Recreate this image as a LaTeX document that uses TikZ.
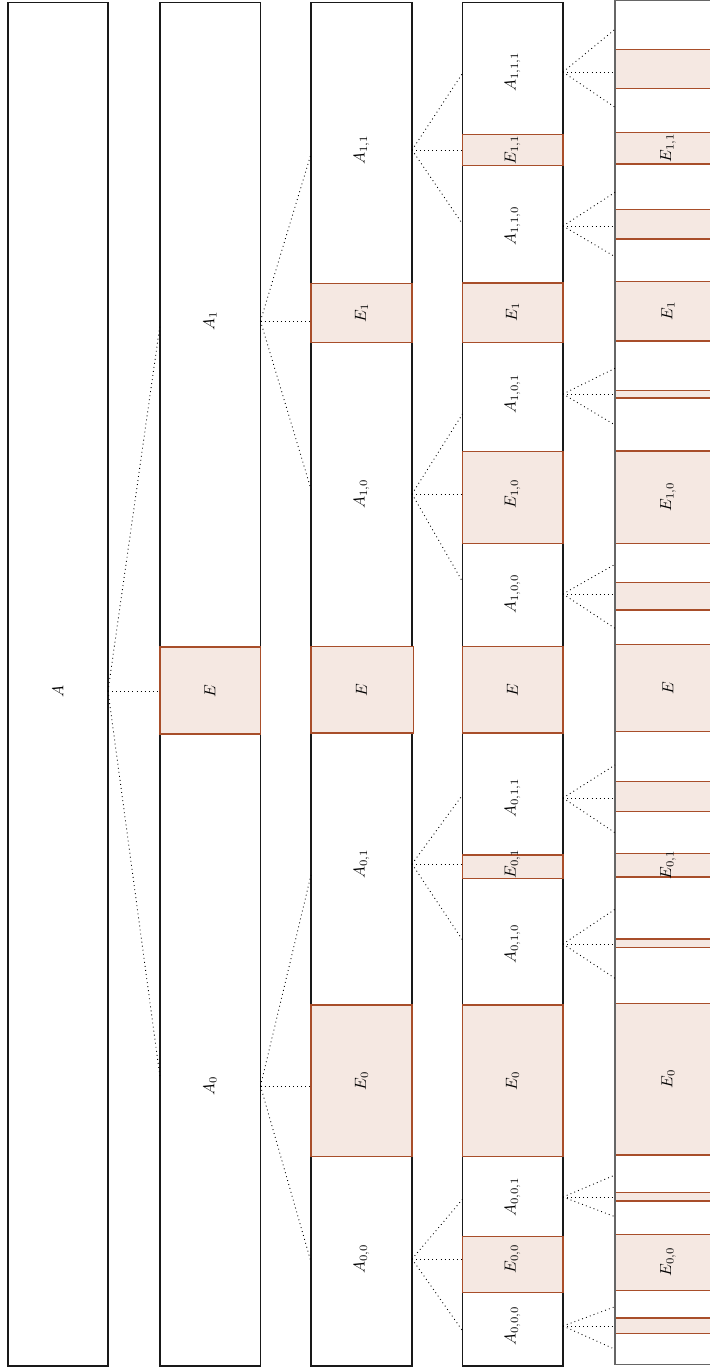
\documentclass[tikz,border=0pt]{standalone}
\definecolor{efill}{RGB}{245,232,226}
\definecolor{edraw}{RGB}{168,78,42}
\tikzset{
  colbox/.style={draw=black!90, line width=0.65pt},
  lastbox/.style={draw=black!60, line width=1pt},
  ebox/.style={draw=edraw, fill=efill, line width=0.65pt},
  lbl/.style={rotate=90, inner sep=0pt},
  conn/.style={dotted, line width=0.55pt},
}
\begin{document}
\begin{tikzpicture}[x=0.625pt,y=-0.625pt]
\useasboundingbox (0,0) rectangle (710,1367);

% column edges
\coordinate (c0r) at (108,0);
\coordinate (c1l) at (160,0);
\coordinate (c1r) at (260.5,0);
\coordinate (c2l) at (311,0);
\coordinate (c2r) at (412,0);
\coordinate (c3l) at (462.5,0);
\coordinate (c3r) at (563,0);
\coordinate (c4l) at (615,0);

% ---------- column 0
\draw[colbox] (8,2.5) rectangle (108,1366);
\node[lbl] (A) at (58,691) {$A$};

% ---------- column 1
\draw[colbox] (160,2.5) rectangle (260.5,1366);
\draw[ebox] (160,647) rectangle (260.5,734);
\node[lbl] (A1) at (210,321) {$A_1$};
\node[lbl] (E) at (210,691) {$E$};
\node[lbl] (A0) at (210,1086) {$A_0$};

% ---------- column 2
\draw[colbox] (311,2.5) rectangle (412,1366);
\draw[ebox] (311,283.3) rectangle (412,342.7);
\draw[ebox] (311,646.3) rectangle (413.3,733);
\draw[ebox] (311,1005) rectangle (412,1156.7);
\node[lbl] (A11) at (361.5,150) {$A_{1,1}$};
\node[lbl] (E1b) at (361.5,313) {$E_1$};
\node[lbl] (A10) at (361.5,494) {$A_{1,0}$};
\node[lbl] (Eb) at (361.5,690) {$E$};
\node[lbl] (A01) at (361.5,864) {$A_{0,1}$};
\node[lbl] (E0b) at (361.5,1081) {$E_0$};
\node[lbl] (A00) at (361.5,1259) {$A_{0,0}$};

% ---------- column 3
\draw[colbox] (462.5,2.5) rectangle (563,1366);
\draw[ebox] (462.5,134.3) rectangle (563,165.7);
\draw[ebox] (462.5,283) rectangle (563,342.3);
\draw[ebox] (462.5,451.7) rectangle (563,543.7);
\draw[ebox] (462.5,646.3) rectangle (563,733);
\draw[ebox] (462.5,855) rectangle (563,878.7);
\draw[ebox] (462.5,1005) rectangle (563,1156.7);
\draw[ebox] (462.5,1236.3) rectangle (563,1292.7);
\node[lbl] (A111) at (512.5,72) {$A_{1,1,1}$};
\node[lbl] (E11c) at (512.5,150) {$E_{1,1}$};
\node[lbl] (A110) at (512.5,226) {$A_{1,1,0}$};
\node[lbl] (E1c) at (512.5,312) {$E_1$};
\node[lbl] (A101) at (512.5,394) {$A_{1,0,1}$};
\node[lbl] (E10c) at (512.5,494) {$E_{1,0}$};
\node[lbl] (A100) at (512.5,594) {$A_{1,0,0}$};
\node[lbl] (Ec) at (512.5,690) {$E$};
\node[lbl] (A011) at (512.5,798) {$A_{0,1,1}$};
\node[lbl] (E01c) at (512.5,864) {$E_{0,1}$};
\node[lbl] (A010) at (512.5,944) {$A_{0,1,0}$};
\node[lbl] (E0c) at (512.5,1081) {$E_0$};
\node[lbl] (A001) at (512.5,1197) {$A_{0,0,1}$};
\node[lbl] (E00c) at (512.5,1259) {$E_{0,0}$};
\node[lbl] (A000) at (512.5,1326) {$A_{0,0,0}$};

% ---------- column 4 (cut by the page edge)
\draw[ebox] (615,49.3) rectangle (721,88.3);
\draw[ebox] (615,132.7) rectangle (721,164);
\draw[ebox] (615,209.3) rectangle (721,239);
\draw[ebox] (615,281.7) rectangle (721,341);
\draw[ebox] (615,390.7) rectangle (721,398);
\draw[ebox] (615,451) rectangle (721,543.7);
\draw[ebox] (615,582.3) rectangle (721,610);
\draw[ebox] (615,644.7) rectangle (721,731.3);
\draw[ebox] (615,781.7) rectangle (721,811.7);
\draw[ebox] (615,853.3) rectangle (721,877);
\draw[ebox] (615,939) rectangle (721,947.7);
\draw[ebox] (615,1003.3) rectangle (721,1155);
\draw[ebox] (615,1192.3) rectangle (721,1201);
\draw[ebox] (615,1234.7) rectangle (721,1290.3);
\draw[ebox] (615,1318) rectangle (721,1333.3);
\draw[lastbox] (615,0.5) rectangle (721,1364.5);
\node[lbl] (E11d) at (668,148) {$E_{1,1}$};
\node[lbl] (E1d) at (668,311) {$E_1$};
\node[lbl] (E10d) at (668,497) {$E_{1,0}$};
\node[lbl] (Ed) at (668,688) {$E$};
\node[lbl] (E01d) at (668,865) {$E_{0,1}$};
\node[lbl] (E0d) at (668,1079) {$E_0$};
\node[lbl] (E00d) at (668,1262) {$E_{0,0}$};

% ---------- connector ends on the left edges of the children
\coordinate (A1in) at (160,325);
\coordinate (A0in) at (160,1077);
\coordinate (A11in) at (311,154);
\coordinate (A10in) at (311,489.3);
\coordinate (A01in) at (311,875);
\coordinate (A00in) at (311,1262);
\coordinate (A111in) at (462.5,73.3);
\coordinate (A110in) at (462.5,224);
\coordinate (A101in) at (462.5,414);
\coordinate (A100in) at (462.5,581.7);
\coordinate (A011in) at (462.5,795);
\coordinate (A010in) at (462.5,940);
\coordinate (A001in) at (462.5,1199.3);
\coordinate (A000in) at (462.5,1330.7);
\coordinate (u111) at (615,29.3);   \coordinate (d111) at (615,107.3);
\coordinate (u110) at (615,192.3);  \coordinate (d110) at (615,256.7);
\coordinate (u101) at (615,368.3);  \coordinate (d101) at (615,425);
\coordinate (u100) at (615,564.3);  \coordinate (d100) at (615,628.3);
\coordinate (u011) at (615,765);    \coordinate (d011) at (615,832.7);
\coordinate (u010) at (615,909.3);  \coordinate (d010) at (615,978.3);
\coordinate (u001) at (615,1175);   \coordinate (d001) at (615,1216.7);
\coordinate (u000) at (615,1306.7); \coordinate (d000) at (615,1349.3);

% ---------- connectors
\draw[conn] (A -| c0r) -- (A1in);
\draw[conn] (A -| c0r) -- (A -| c1l);
\draw[conn] (A -| c0r) -- (A0in);

\draw[conn] (A1 -| c1r) -- (A11in);
\draw[conn] (A1 -| c1r) -- (A1 -| c2l);
\draw[conn] (A1 -| c1r) -- (A10in);
\draw[conn] (A0 -| c1r) -- (A01in);
\draw[conn] (A0 -| c1r) -- (A0 -| c2l);
\draw[conn] (A0 -| c1r) -- (A00in);

\draw[conn] (A11 -| c2r) -- (A111in);
\draw[conn] (A11 -| c2r) -- (A11 -| c3l);
\draw[conn] (A11 -| c2r) -- (A110in);
\draw[conn] (A10 -| c2r) -- (A101in);
\draw[conn] (A10 -| c2r) -- (A10 -| c3l);
\draw[conn] (A10 -| c2r) -- (A100in);
\draw[conn] (A01 -| c2r) -- (A011in);
\draw[conn] (A01 -| c2r) -- (A01 -| c3l);
\draw[conn] (A01 -| c2r) -- (A010in);
\draw[conn] (A00 -| c2r) -- (A001in);
\draw[conn] (A00 -| c2r) -- (A00 -| c3l);
\draw[conn] (A00 -| c2r) -- (A000in);

\foreach \n in {111,110,101,100,011,010,001,000}{
  \draw[conn] (A\n -| c3r) -- (u\n);
  \draw[conn] (A\n -| c3r) -- (A\n -| c4l);
  \draw[conn] (A\n -| c3r) -- (d\n);
}
\end{tikzpicture}
\end{document}
